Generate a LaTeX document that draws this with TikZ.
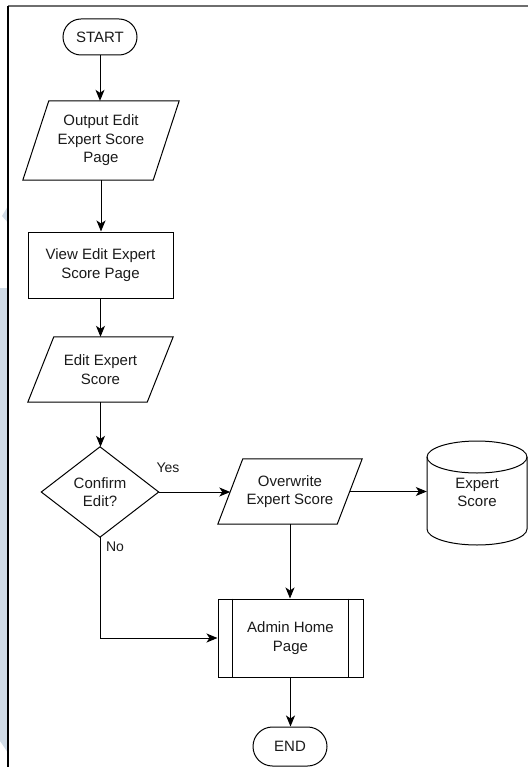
\documentclass[tikz,border=0pt]{standalone}
\usepackage{fontspec}
\setmainfont{Liberation Sans}
\usetikzlibrary{arrows.meta,shapes.misc}
\definecolor{bandblue}{HTML}{D0DBE6}
\definecolor{framegray}{HTML}{6E6E6E}
\definecolor{ink}{HTML}{1A1A1A}
\begin{document}
\begin{tikzpicture}[x=1pt,y=-1pt,
  every node/.style={font=\fontsize{15}{18.5}\selectfont, align=center, inner sep=0pt, text=ink},
  outline/.style={draw=black, line width=1pt},
  flow/.style={draw=black, line width=1pt, -{Stealth[length=11pt,width=9pt,inset=3pt]}},
  term/.style={outline, rounded rectangle, minimum width=74pt, minimum height=36pt},
  box/.style={outline, rectangle, minimum width=#1},
  ghost/.style={rectangle, minimum width=#1},
  lbl/.style={font=\fontsize{14}{16}\selectfont}
]
\useasboundingbox (0,0) rectangle (528,767);

% page band and frame
\fill[bandblue] (0,288) -- (7.4,288) -- (7.4,752) -- (0,741) -- cycle;
\fill[bandblue] (2,216) -- (7.4,207) -- (7.4,222) -- cycle;
\draw[framegray, line width=1.2pt] (8,6) -- (528,6);
\draw[black, line width=1.2pt] (8,6) -- (8,767);

% start
\node[term] (start) at (100,37) {START};

% output page (parallelogram)
\node[ghost=130pt, minimum height=79pt] (out) at (101,140.5) {Output Edit\\Expert Score\\Page};
\draw[outline] ([xshift=13pt]out.north west) -- ([xshift=13pt]out.north east)
  -- ([xshift=-13pt]out.south east) -- ([xshift=-13pt]out.south west) -- cycle;

% view page
\node[box=145pt, minimum height=66pt] (view) at (100.5,265) {View Edit Expert\\Score Page};

% edit score (parallelogram)
\node[ghost=119pt, minimum height=65pt] (edit) at (100.5,369.5) {Edit Expert\\Score};
\draw[outline] ([xshift=13pt]edit.north west) -- ([xshift=13pt]edit.north east)
  -- ([xshift=-13pt]edit.south east) -- ([xshift=-13pt]edit.south west) -- cycle;

% decision
\node[ghost=117pt, minimum height=90pt] (dec) at (100,492) {Confirm\\Edit?};
\draw[outline] (dec.north) -- (dec.east) -- (dec.south) -- (dec.west) -- cycle;

% overwrite (parallelogram)
\node[ghost=119pt, minimum height=65pt] (over) at (290,491.5) {Overwrite\\Expert Score};
\draw[outline] ([xshift=12.5pt]over.north west) -- ([xshift=12.5pt]over.north east)
  -- ([xshift=-12.5pt]over.south east) -- ([xshift=-12.5pt]over.south west) -- cycle;

% database cylinder
\node[ghost=100pt, minimum height=60pt] (db) at (477,492.5) {Expert\\Score};
\draw[outline] (427,457) -- (427,529) arc[start angle=180, end angle=360, x radius=50pt, y radius=16pt]
  -- (527,457) arc[start angle=0, end angle=180, x radius=50pt, y radius=16pt] -- cycle;
\draw[outline] (427,457) arc[start angle=180, end angle=360, x radius=50pt, y radius=16pt];

% admin home (predefined process)
\node[box=145pt, minimum height=78pt] (admin) at (290.5,638) {Admin Home\\Page};
\draw[outline] ([xshift=15pt]admin.north west) -- ([xshift=15pt]admin.south west);
\draw[outline] ([xshift=-15pt]admin.north east) -- ([xshift=-15pt]admin.south east);

% end
\node[term, minimum height=39pt] (stop) at (290,746.5) {END};

% connectors
\draw[flow] (start.south) -- (start.south |- out.north);
\draw[flow] (out.south) -- (out.south |- view.north);
\draw[flow] (view.south) -- (view.south |- edit.north);
\draw[flow] (edit.south) -- (edit.south |- dec.north);
\draw[flow] (dec.east) -- (dec.east -| over.west);
\draw[flow] (over.east) -- (over.east -| db.west);
\draw[flow] (over.south) -- (over.south |- admin.north);
\draw[flow] (dec.south) |- (admin.west);
\draw[flow] (admin.south) -- (admin.south |- stop.north);

% branch labels
\node[lbl] (yes) at (168,468) {Yes};
\node[lbl] (no) at (115,547) {No};
\end{tikzpicture}
\end{document}
